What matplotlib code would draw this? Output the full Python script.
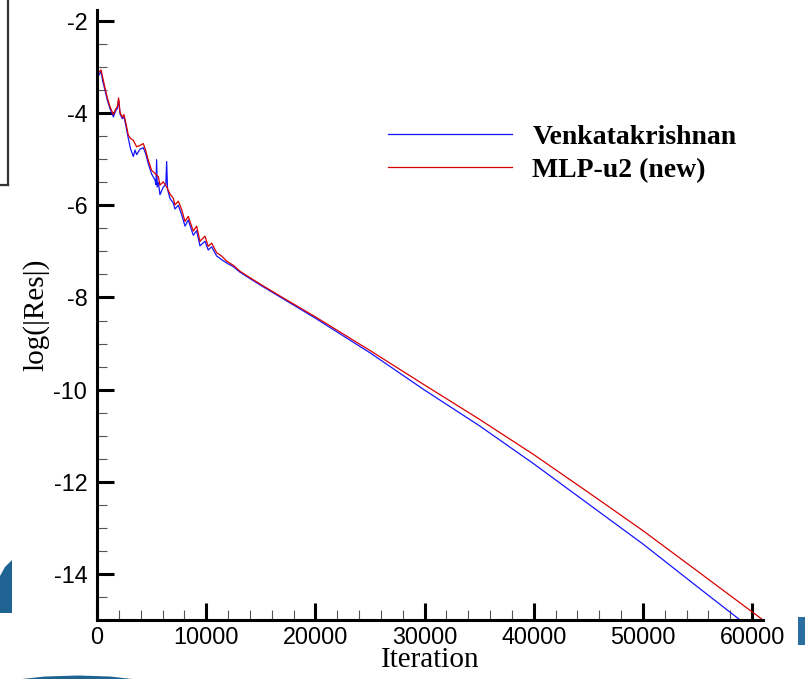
import matplotlib

matplotlib.use("Agg")
import matplotlib.pyplot as plt
from matplotlib.patches import Polygon, Rectangle
from matplotlib.ticker import MultipleLocator

# residual history
venk_iter = [0, 150, 370, 520, 730, 950, 1190, 1500, 1710, 1860, 1980, 2110, 2320, 2470,
             2650, 2870, 3080, 3330, 3480, 3630, 3940, 4240, 4460, 4700, 5000, 5310, 5400,
             5460, 5520, 5620, 5770, 6070, 6300, 6380, 6460, 6680, 6990, 7140, 7450, 7750,
             8060, 8360, 8820, 9130, 9430, 9890, 10190, 10500, 10960, 11420, 11870, 12480,
             13090, 14010, 15230, 17060, 20000, 25000, 30000, 35000, 40000, 45000, 50000,
             55000, 58900]
venk_res = [-3.20, -3.18, -3.10, -3.30, -3.50, -3.72, -3.90, -4.08, -3.95, -3.90, -3.72, -4.02,
            -4.12, -4.08, -4.28, -4.55, -4.78, -4.94, -4.80, -4.90, -4.78, -4.75, -4.88, -5.10,
            -5.32, -5.45, -5.55, -5.01, -5.60, -5.50, -5.77, -5.60, -5.55, -5.05, -5.65, -5.85,
            -5.95, -6.08, -6.00, -6.20, -6.45, -6.32, -6.65, -6.55, -6.88, -6.78, -6.97, -6.90,
            -7.10, -7.18, -7.25, -7.33, -7.45, -7.59, -7.77, -8.03, -8.45, -9.20, -10.01,
            -10.78, -11.61, -12.48, -13.35, -14.28, -15.00]

mlp_iter = [0, 150, 370, 520, 730, 950, 1190, 1500, 1710, 1860, 1980, 2110, 2320, 2470,
            2650, 2870, 3080, 3330, 3630, 3940, 4240, 4460, 4700, 5000, 5310, 5620, 5770,
            6070, 6380, 6680, 6990, 7140, 7450, 7750, 8060, 8360, 8820, 9130, 9430, 9890,
            10190, 10500, 10960, 11420, 11870, 12480, 13090, 14010, 15230, 17060, 20000,
            25000, 30000, 35000, 40000, 45000, 50000, 55000, 61000]
mlp_res = [-3.15, -3.12, -3.06, -3.22, -3.45, -3.67, -3.86, -4.03, -3.91, -3.86, -3.67, -3.98,
           -4.09, -4.03, -4.22, -4.48, -4.55, -4.59, -4.73, -4.70, -4.66, -4.81, -5.02, -5.24,
           -5.31, -5.38, -5.56, -5.49, -5.60, -5.75, -5.85, -5.99, -5.91, -6.09, -6.35, -6.24,
           -6.56, -6.45, -6.78, -6.67, -6.89, -6.82, -7.03, -7.10, -7.21, -7.30, -7.43, -7.57,
           -7.75, -8.01, -8.42, -9.15, -9.90, -10.64, -11.41, -12.23, -13.06, -13.94, -15.00]

SERIES = [
    ("Venkatakrishnan", venk_iter, venk_res, "#1414FF"),
    ("MLP-u2 (new)", mlp_iter, mlp_res, "#D80000"),
]

W, H = 805, 679


def px(x, y):
    # pixel (from top-left) -> figure fraction
    return x / W, 1 - y / H


def draw_backdrop(fig):
    # bits of the slide behind the plot
    fig.add_artist(plt.Line2D([px(8, 0)[0], px(8, 185)[0]], [px(8, 0)[1], px(8, 185)[1]],
                              color="#333333", lw=1.6, zorder=-3))
    fig.add_artist(plt.Line2D([0, px(8, 185)[0]], [px(8, 185)[1]] * 2,
                              color="#333333", lw=1.6, zorder=-3))
    blue = "#1f6392"
    fig.add_artist(Polygon([px(12, 560), px(12, 613), px(0, 613), px(0, 576), px(5, 567)],
                           closed=True, color=blue, lw=0, zorder=-3))
    fig.add_artist(Polygon([px(22, 679), px(45, 676.5), px(78, 675.5), px(110, 676.5), px(132, 679)],
                           closed=True, color=blue, lw=0, zorder=-3))
    fig.add_artist(Rectangle(px(798, 645), 7 / W, 28 / H, color="#2a6fa0", lw=0, zorder=-3))


def main():
    plt.rcParams["axes.unicode_minus"] = False
    fig = plt.figure(figsize=(W / 100, H / 100), dpi=100)
    draw_backdrop(fig)

    left, right = px(97, 0)[0], px(763, 0)[0]
    bottom, top = px(0, 620)[1], px(0, 9.5)[1]
    ax = fig.add_axes([left, bottom, right - left, top - bottom])
    ax.set_facecolor("none")

    for name, xs, ys, color in SERIES:
        ax.plot(xs, ys, color=color, lw=0.9, label=name)

    ax.set_xlim(0, 61000)
    ax.set_ylim(-15, -1.75)
    ax.xaxis.set_major_locator(MultipleLocator(10000))
    ax.xaxis.set_minor_locator(MultipleLocator(2000))
    ax.yaxis.set_major_locator(MultipleLocator(2))
    ax.yaxis.set_minor_locator(MultipleLocator(0.5))

    for side in ("top", "right"):
        ax.spines[side].set_visible(False)
    for side in ("left", "bottom"):
        ax.spines[side].set_linewidth(2.2)
    ax.tick_params(which="major", direction="in", length=12, width=2.2)
    ax.tick_params(which="minor", direction="in", length=7, width=0.8, color="#555555")
    ax.tick_params(axis="y", which="major", pad=7)
    ax.tick_params(axis="x", which="major", pad=4)
    for lab in ax.get_xticklabels() + ax.get_yticklabels():
        lab.set_fontfamily("Liberation Sans")
        lab.set_fontsize(16.8)

    ax.set_xlabel("Iteration", family="Liberation Serif", fontsize=21)
    ax.set_ylabel("log(|Res|)", family="Liberation Serif", fontsize=21)
    ax.xaxis.set_label_coords(0.5, -0.045)
    ax.yaxis.set_label_coords(-0.072, 0.5)

    ax.legend(loc="upper left", bbox_to_anchor=(0.437, 0.812), frameon=False,
              prop={"family": "Liberation Serif", "weight": "bold", "size": 20},
              handlelength=4.45, handletextpad=0.75, labelspacing=0.27,
              borderpad=0, borderaxespad=0)

    fig.savefig("out.png", dpi=100)
    plt.close(fig)


if __name__ == "__main__":
    main()
